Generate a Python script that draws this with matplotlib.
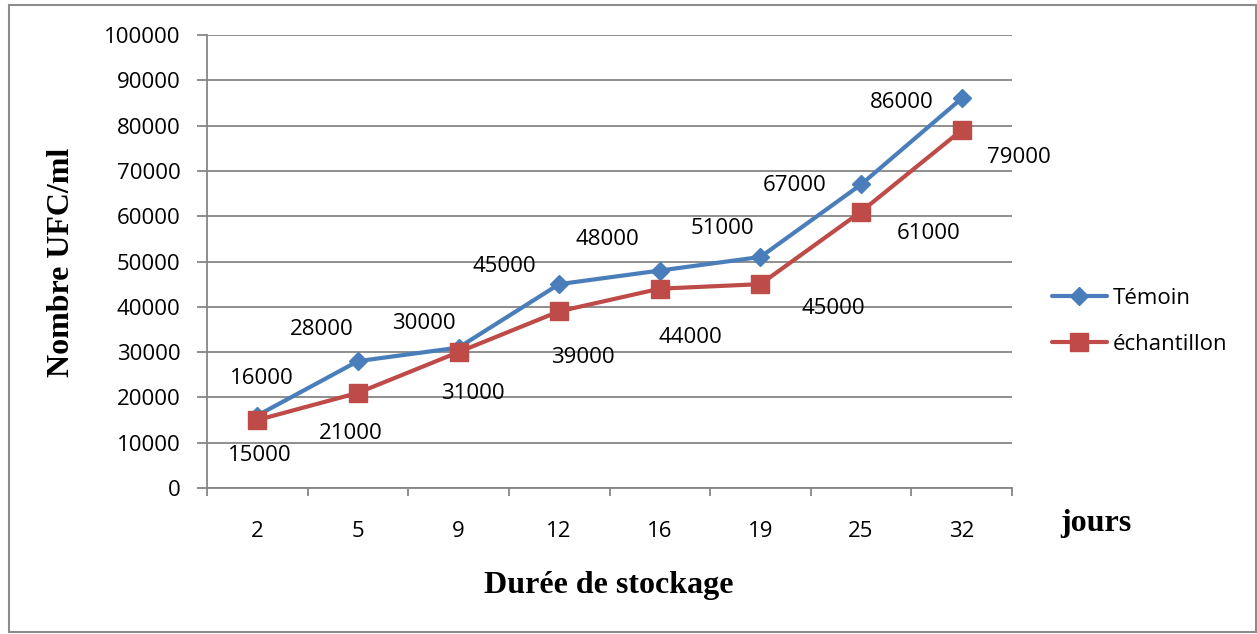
import matplotlib
matplotlib.use("Agg")
import matplotlib.pyplot as plt
from matplotlib.patches import Rectangle
import numpy as np

# ---- data ----
days = ["2", "5", "9", "12", "16", "19", "25", "32"]
temoin = [16000, 28000, 31000, 45000, 48000, 51000, 67000, 86000]
echantillon = [15000, 21000, 30000, 39000, 44000, 45000, 61000, 79000]
temoin_labels = ["16000", "28000", "30000", "45000", "48000", "51000", "67000", "86000"]
echantillon_labels = ["15000", "21000", "31000", "39000", "44000", "45000", "61000", "79000"]
y_ticks = list(range(0, 100001, 10000))

# label offsets in pixels (dx right, dy down) relative to each point
temoin_off = [(4, -40), (-36, -34), (-35, -27), (-55, -20), (-52, -34), (-38, -31), (-66, -1), (-60, 2)]
echant_off = [(2, 33), (-7, 38), (14, 39), (24, 44), (31, 46), (73, 22), (68, 19), (57, 25)]

W, H = 1257, 634
fig = plt.figure(figsize=(W / 100, H / 100), dpi=100)
ax = fig.add_axes([207 / W, 1 - 488 / H, (1012 - 207) / W, (488 - 35) / H])

blue = "#4A7EBB"
red = "#BE4B48"
gray = "#868686"
tick_font = "Open Sans"
fs = 16

x = np.arange(len(days))
ax.plot(x, temoin, color=blue, lw=3.0, marker="D", ms=9, mec=blue, mfc=blue,
        label="Témoin", zorder=3, solid_capstyle="round")
ax.plot(x, echantillon, color=red, lw=3.0, marker="s", ms=13.5, mec=red, mfc=red,
        label="échantillon", zorder=4, solid_capstyle="round")

px2pt = 0.72
for xi, v, lab, (dx, dy) in zip(x, temoin, temoin_labels, temoin_off):
    ax.annotate(lab, (xi, v), xytext=(dx * px2pt, -dy * px2pt), textcoords="offset points",
                ha="center", va="center_baseline", fontsize=fs, family=tick_font, color="black")
for xi, v, lab, (dx, dy) in zip(x, echantillon, echantillon_labels, echant_off):
    ax.annotate(lab, (xi, v), xytext=(dx * px2pt, -dy * px2pt), textcoords="offset points",
                ha="center", va="center_baseline", fontsize=fs, family=tick_font, color="black")

ax.set_xlim(-0.5, len(days) - 0.5)
ax.set_ylim(0, 100000)
ax.set_yticks(y_ticks)
ax.set_yticklabels([str(t) for t in y_ticks], fontsize=fs, family=tick_font)
ax.set_xticks(np.arange(-0.5, len(days), 1))
ax.set_xticklabels([])
ax.set_xticks(x, minor=True)
ax.set_xticklabels(days, minor=True, fontsize=fs, family=tick_font)
ax.tick_params(axis="x", which="major", length=5.8, width=1.3, color=gray, direction="out")
ax.tick_params(axis="x", which="minor", length=0, pad=24)
ax.tick_params(axis="y", length=7.2, width=1.3, color=gray, pad=12)

ax.grid(axis="y", color=gray, lw=1.3, zorder=0)
ax.set_axisbelow(True)
for s in ["top", "right"]:
    ax.spines[s].set_visible(False)
for s in ["left", "bottom"]:
    ax.spines[s].set_color(gray)
    ax.spines[s].set_linewidth(1.3)

serif = "Liberation Serif"
fig.text(62 / W, 1 - 262 / H, "Nombre UFC/ml", rotation=90, ha="center", va="center",
         fontsize=23, fontweight="bold", family=serif)
fig.text(609 / W, 1 - 585 / H, "Durée de stockage", ha="center", va="center",
         fontsize=23, fontweight="bold", family=serif)
fig.text(1096 / W, 1 - 523 / H, "jours", ha="center", va="center",
         fontsize=23, fontweight="bold", family=serif)

leg = fig.legend(loc="upper left", bbox_to_anchor=(1052 / W, 1 - 288 / H), frameon=False,
                 prop={"family": tick_font, "size": fs}, handlelength=2.47, handletextpad=0.25,
                 labelspacing=1.12, borderpad=0, borderaxespad=0, numpoints=1)

fig.patches.append(Rectangle((9 / W, 1 - 632 / H), (1256 - 9) / W, (632 - 5) / H,
                             transform=fig.transFigure, fill=False, edgecolor="#8C8C8C", lw=1.5))

fig.savefig("out.png", dpi=100)
